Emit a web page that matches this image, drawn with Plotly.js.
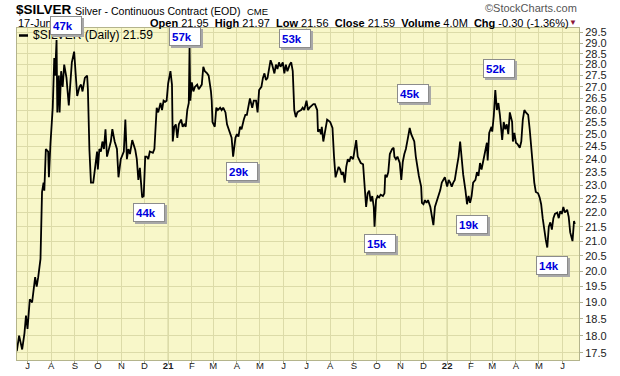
<!DOCTYPE html>
<html>
<head>
<meta charset="utf-8">
<script src="https://cdn.plot.ly/plotly-3.0.1.min.js"></script>
<style>html,body{margin:0;padding:0;background:#fff;}#chart{width:620px;height:376px;}</style>
</head>
<body>
<div id="chart"></div>
<script>
// ---- data ----
const dates = [
"2020-06-17","2020-06-20","2020-06-24","2020-06-27","2020-06-29","2020-07-01","2020-07-04","2020-07-07","2020-07-11","2020-07-13",
"2020-07-15","2020-07-18","2020-07-20","2020-07-22","2020-07-23","2020-07-25","2020-07-28","2020-07-29","2020-07-31","2020-08-03",
"2020-08-05","2020-08-06","2020-08-08","2020-08-09","2020-08-11","2020-08-12","2020-08-14","2020-08-16","2020-08-18","2020-08-21",
"2020-08-24","2020-08-26","2020-08-28","2020-08-31","2020-09-03","2020-09-04","2020-09-07","2020-09-09","2020-09-11","2020-09-14",
"2020-09-17","2020-09-18","2020-09-20","2020-09-22","2020-09-25","2020-09-28","2020-09-30","2020-10-01","2020-10-03","2020-10-05",
"2020-10-07","2020-10-09","2020-10-11","2020-10-13","2020-10-15","2020-10-18","2020-10-20","2020-10-23","2020-10-26","2020-10-28",
"2020-10-31","2020-11-02","2020-11-04","2020-11-06","2020-11-08","2020-11-10","2020-11-12","2020-11-15","2020-11-17","2020-11-19",
"2020-11-21","2020-11-23","2020-11-25","2020-11-28","2020-11-30","2020-12-02","2020-12-04","2020-12-06","2020-12-08","2020-12-12",
"2020-12-14","2020-12-15","2020-12-17","2020-12-19","2020-12-22","2020-12-24","2020-12-26","2020-12-28","2020-12-30","2021-01-01",
"2021-01-04","2021-01-06","2021-01-07","2021-01-09","2021-01-11","2021-01-13","2021-01-15","2021-01-18","2021-01-20","2021-01-22",
"2021-01-24","2021-01-26","2021-01-28","2021-01-29","2021-01-30","2021-02-01","2021-02-03","2021-02-05","2021-02-08","2021-02-10",
"2021-02-12","2021-02-14","2021-02-16","2021-02-18","2021-02-21","2021-02-23","2021-02-26","2021-02-27","2021-02-28","2021-03-03",
"2021-03-05","2021-03-07","2021-03-10","2021-03-12","2021-03-14","2021-03-17","2021-03-19","2021-03-21","2021-03-23","2021-03-25",
"2021-03-27","2021-03-30","2021-04-01","2021-04-03","2021-04-05","2021-04-07","2021-04-10","2021-04-12","2021-04-14","2021-04-16",
"2021-04-18","2021-04-21","2021-04-23","2021-04-26","2021-04-28","2021-04-30","2021-05-03","2021-05-05","2021-05-07","2021-05-09",
"2021-05-11","2021-05-14","2021-05-15","2021-05-17","2021-05-20","2021-05-22","2021-05-24","2021-05-26","2021-05-28","2021-05-31",
"2021-06-02","2021-06-04","2021-06-06","2021-06-09","2021-06-11","2021-06-13","2021-06-15","2021-06-17","2021-06-19","2021-06-21",
"2021-06-24","2021-06-26","2021-06-28","2021-07-01","2021-07-03","2021-07-05","2021-07-08","2021-07-10","2021-07-12","2021-07-15",
"2021-07-16","2021-07-18","2021-07-20","2021-07-21","2021-07-23","2021-07-25","2021-07-28","2021-08-01","2021-08-04","2021-08-06",
"2021-08-08","2021-08-10","2021-08-12","2021-08-14","2021-08-16","2021-08-18","2021-08-20","2021-08-22","2021-08-24","2021-08-26",
"2021-08-28","2021-08-31","2021-09-02","2021-09-04","2021-09-06","2021-09-08","2021-09-10","2021-09-13","2021-09-15","2021-09-17",
"2021-09-19","2021-09-21","2021-09-23","2021-09-25","2021-09-27","2021-09-28","2021-09-30","2021-10-02","2021-10-04","2021-10-06",
"2021-10-09","2021-10-11","2021-10-12","2021-10-14","2021-10-16","2021-10-18","2021-10-21","2021-10-23","2021-10-24","2021-10-26",
"2021-10-28","2021-10-31","2021-11-02","2021-11-04","2021-11-06","2021-11-08","2021-11-11","2021-11-13","2021-11-15","2021-11-17",
"2021-11-19","2021-11-21","2021-11-23","2021-11-25","2021-11-28","2021-11-29","2021-12-01","2021-12-03","2021-12-05","2021-12-07",
"2021-12-10","2021-12-12","2021-12-14","2021-12-16","2021-12-19","2021-12-21","2021-12-23","2021-12-25","2021-12-27","2021-12-29",
"2022-01-01","2022-01-03","2022-01-05","2022-01-07","2022-01-09","2022-01-11","2022-01-14","2022-01-16","2022-01-18","2022-01-20",
"2022-01-22","2022-01-25","2022-01-27","2022-01-29","2022-01-31","2022-02-02","2022-02-04","2022-02-07","2022-02-09","2022-02-11",
"2022-02-13","2022-02-15","2022-02-18","2022-02-20","2022-02-22","2022-02-23","2022-02-25","2022-02-28","2022-03-01","2022-03-03",
"2022-03-05","2022-03-07","2022-03-09","2022-03-11","2022-03-14","2022-03-16","2022-03-18","2022-03-20","2022-03-22","2022-03-24",
"2022-03-27","2022-03-28","2022-03-30","2022-04-01","2022-04-03","2022-04-06","2022-04-08","2022-04-10","2022-04-12","2022-04-14",
"2022-04-17","2022-04-19","2022-04-21","2022-04-23","2022-04-25","2022-04-27","2022-04-30","2022-05-02","2022-05-04","2022-05-06",
"2022-05-08","2022-05-10","2022-05-12","2022-05-14","2022-05-16","2022-05-18","2022-05-20","2022-05-22","2022-05-25","2022-05-27",
"2022-05-29","2022-05-31","2022-06-02","2022-06-04","2022-06-07","2022-06-09","2022-06-11","2022-06-14","2022-06-16","2022-06-17"
];
const silver = [
17.55,18.0,17.6,18.07,18.6,18.2,19.1,19.0,19.8,19.5,
19.8,20.4,22.75,23.1,22.8,24.4,24.3,23.3,24.6,26.1,
28.3,27.5,29.14,25.9,27.5,25.9,27.7,27.0,28.0,27.4,
26.2,27.4,28.1,28.6,27.2,26.6,27.0,27.1,26.8,27.4,
27.5,26.9,24.36,23.1,23.1,23.8,24.3,23.6,24.4,24.3,
24.7,24.4,25.2,24.1,24.3,24.7,25.2,24.7,24.4,23.3,
24.0,24.2,24.3,25.6,24.0,24.4,24.2,24.76,24.6,24.36,
24.0,23.2,23.66,22.55,22.6,24.1,24.1,24.0,24.3,24.25,
24.4,24.9,26.1,25.9,26.3,26.0,26.4,26.35,26.4,27.15,
27.7,27.1,24.7,25.3,25.4,24.85,25.4,25.6,25.3,25.4,
25.3,26.0,26.3,28.8,26.4,27.2,26.8,27.0,27.1,26.9,
27.0,27.1,27.9,27.7,27.6,27.5,26.8,26.4,25.5,25.3,
26.1,26.0,26.1,26.0,26.1,25.9,25.4,25.2,25.1,24.85,
24.1,24.85,25.0,24.9,25.3,25.2,25.6,25.8,25.8,26.2,
26.5,26.1,26.4,26.4,25.9,26.86,27.0,27.4,27.6,27.3,
27.4,28.0,28.2,28.0,27.6,28.0,27.8,28.1,27.9,28.1,
27.6,28.0,27.7,28.0,28.1,27.7,26.0,25.7,25.9,25.95,
26.0,26.1,26.0,26.4,26.0,26.1,26.2,26.25,26.25,26.0,
25.1,25.2,25.0,25.3,24.7,25.0,25.6,25.5,25.25,24.1,
23.3,23.5,23.7,23.6,23.4,23.5,23.1,23.7,24.0,23.9,
24.1,24.0,24.36,24.76,24.1,24.0,23.85,23.8,22.95,22.2,
22.7,22.8,22.4,22.6,22.2,21.5,22.46,22.6,22.55,22.65,
22.6,22.7,23.4,23.3,23.5,24.2,24.4,24.45,24.1,24.0,
24.1,23.85,23.2,23.9,24.2,24.4,24.9,25.25,25.0,24.85,
24.7,24.1,23.66,23.35,22.95,22.35,22.3,22.45,22.35,22.45,
22.2,21.9,21.55,22.2,22.45,22.6,22.82,23.1,23.2,23.3,
22.95,23.2,23.1,22.95,23.1,23.2,23.75,24.1,24.7,23.95,
23.4,22.8,22.3,22.6,22.35,22.6,23.1,23.2,23.5,23.35,
23.85,23.6,24.1,24.4,24.65,23.95,25.05,25.3,25.1,25.75,
26.86,26.0,26.3,25.8,24.76,25.5,25.2,25.4,25.0,25.9,
25.5,24.7,25.05,24.65,24.6,24.45,24.7,25.6,26.0,25.9,
25.8,25.2,24.45,23.6,23.1,22.75,22.7,22.55,22.3,21.8,
21.3,21.05,20.78,21.5,21.65,21.4,21.8,21.95,22.0,21.8,
22.05,21.95,22.2,22.0,22.1,21.85,21.3,21.0,21.7,21.59
];
const monthTicks = [
"2020-07-01","2020-08-01","2020-09-01","2020-10-01","2020-11-01","2020-12-01",
"2021-01-01","2021-02-01","2021-03-01","2021-04-01","2021-05-01","2021-06-01",
"2021-07-01","2021-08-01","2021-09-01","2021-10-01","2021-11-01","2021-12-01",
"2022-01-01","2022-02-01","2022-03-01","2022-04-01","2022-05-01","2022-06-01"
];
const monthLabels = ["J","A","S","O","N","D","<b>21</b>","F","M","A","M","J",
                     "J","A","S","O","N","D","<b>22</b>","F","M","A","M","J"];
const yearLines = ["2021-01-01","2022-01-01"];
const yTicks = [17.5,18.0,18.5,19.0,19.5,20.0,20.5,21.0,21.5,22.0,22.5,23.0,23.5,
                24.0,24.5,25.0,25.5,26.0,26.5,27.0,27.5,28.0,28.5,29.0,29.5];
const yTickLabels = yTicks.map(v => v.toFixed(1));
const volumeLabels = ["47k","57k","53k","44k","29k","45k","15k","52k","19k","14k"];

// ---- layout geometry (pixels) ----
const L = 17, R = 579, T = 28, B = 360, W = R - L, H = B - T;
const px = (x, y) => ({x: (x - L) / W, y: (B - y) / H});
const FONT = "Liberation Sans, Arial, sans-serif";
const boxCenters = [[66,25],[184.5,36.5],[295,39],[148.5,212],[242,171.5],
                    [412.5,93.5],[380,243],[498.5,68.5],[472,224.5],[551.5,265.5]];

const annotations = [];
function txt(x, y, text, size, anchor, color, extra) {
  const p = px(x, y);
  annotations.push(Object.assign({xref:"paper", yref:"paper", x:p.x, y:p.y, text:text,
    showarrow:false, xanchor:anchor, yanchor:"middle",
    font:{family:FONT, size:size, color:color || "#000"}}, extra || {}));
}
// header
txt(14, 10, "<b>$SILVER</b>", 13.5, "left");
txt(73, 11, "Silver - Continuous Contract (EOD)", 10.6, "left");
txt(245, 11.5, "CME", 9.5, "left");
txt(16, 23, "17-Jun-", 11, "left");
txt(579, 8, "\u00a9StockCharts.com", 11, "right", "#555");
txt(571, 23, "<b>Open</b> 21.95  <b>High</b> 21.97  <b>Low</b> 21.56  <b>Close</b> 21.59  <b>Volume</b> 4.0M  <b>Chg</b> -0.30 (-1.36%)", 11, "right");
txt(579, 22.5, "\u25bc", 8, "right", "#8b1538");
// legend
txt(31, 35.5, "$SILVER (Daily) 21.59", 12, "left");

// volume boxes with shadow
volumeLabels.forEach((lab, i) => {
  const p = px(boxCenters[i][0], boxCenters[i][1]);
  const base = {xref:"paper", yref:"paper", x:p.x, y:p.y, showarrow:false,
    xanchor:"center", yanchor:"middle", width:26, height:13, borderpad:2, borderwidth:1};
  annotations.push(Object.assign({}, base, {text:"\u00a0", bgcolor:"#a8a8a8", bordercolor:"#a8a8a8",
    xshift:2, yshift:-2, font:{family:FONT, size:11}}));
  annotations.push(Object.assign({}, base, {text:"<b>" + lab + "</b>", align:"left",
    bgcolor:"#ffffff", bordercolor:"#8c8c8c", font:{family:FONT, size:11.5, color:"#0000dd"}}));
});

const shapes = yearLines.map(d => ({type:"line", xref:"x", yref:"paper", x0:d, x1:d, y0:0, y1:1,
  line:{color:"#c4c392", width:1}, layer:"below"}));
{
  const a = px(19, 35.5), b = px(28, 35.5);
  shapes.push({type:"line", xref:"paper", yref:"paper", x0:a.x, x1:b.x, y0:a.y, y1:b.y,
    line:{color:"#000", width:2.5}});
}

const trace = {x: dates, y: silver, type:"scatter", mode:"lines",
  line:{color:"#000", width:1.8}, hoverinfo:"skip", showlegend:false};

const layout = {
  width:620, height:376,
  margin:{l:L, r:620 - R, t:T, b:376 - B, pad:0},
  paper_bgcolor:"#ffffff", plot_bgcolor:"#f8f7c9",
  showlegend:false,
  xaxis:{type:"date", range:["2020-06-17 06:00","2022-06-22 12:00"],
    tickmode:"array", tickvals:monthTicks, ticktext:monthLabels,
    showgrid:true, gridcolor:"#dcdba8", gridwidth:1,
    ticks:"outside", ticklen:3, tickcolor:"#b0b090",
    showline:true, linecolor:"#b4b48c", mirror:true, linewidth:1,
    zeroline:false, automargin:false, ticklabelstandoff:-6,
    tickfont:{family:FONT, size:9.5, color:"#222"}},
  yaxis:{type:"log", side:"right", range:[Math.log10(17.30), Math.log10(29.72)],
    tickmode:"array", tickvals:yTicks, ticktext:yTickLabels,
    showgrid:true, gridcolor:"#dcdba8", gridwidth:1,
    ticks:"outside", ticklen:3, tickcolor:"#b0b090",
    showline:true, linecolor:"#b4b48c", mirror:true, linewidth:1,
    zeroline:false, automargin:false,
    tickfont:{family:FONT, size:11, color:"#222"}},
  annotations: annotations,
  shapes: shapes
};
Plotly.newPlot("chart", [trace], layout, {staticPlot:true, displayModeBar:false});
</script>
</body>
</html>
